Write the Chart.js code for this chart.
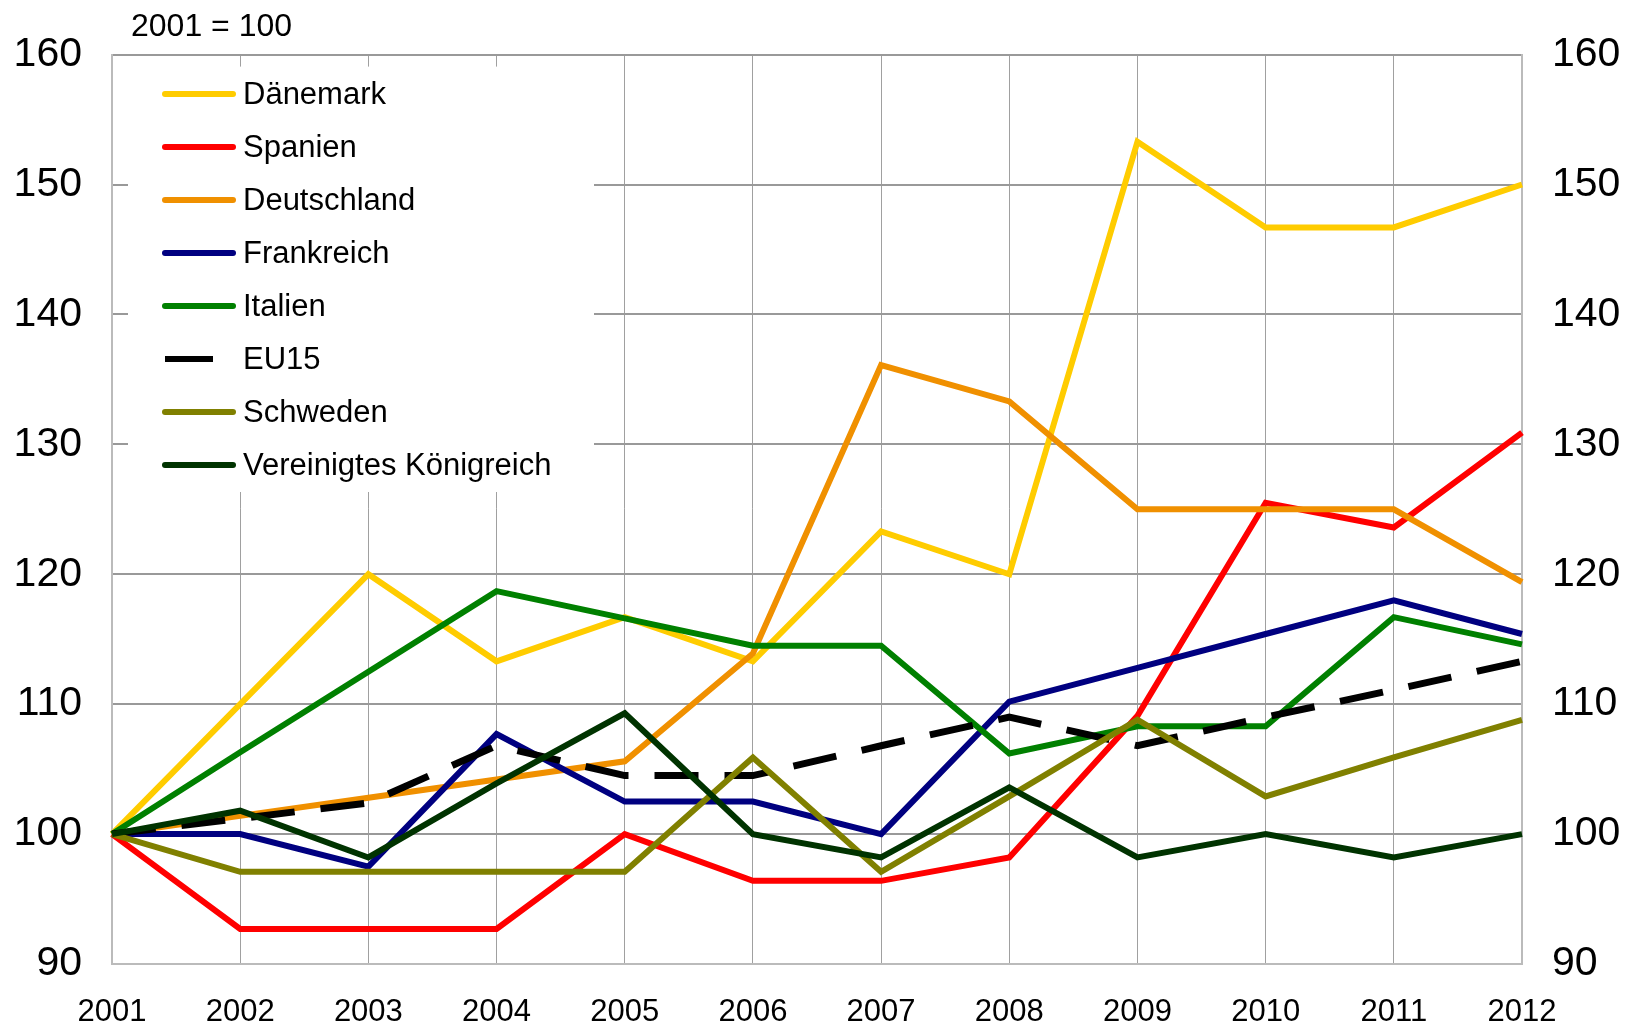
<!DOCTYPE html>
<html>
<head>
<meta charset="utf-8">
<script src="https://cdn.jsdelivr.net/npm/chart.js@4.4.0/dist/chart.umd.min.js"></script>
<style>
  body { margin: 0; background: #fff; }
  #wrap { position: relative; width: 1625px; height: 1024px; }
  #note { position: absolute; left: 131px; top: 7px; font: 32px "Liberation Sans", Arial, sans-serif; color: #000; }
</style>
</head>
<body>
<div id="wrap">
  <canvas id="chart" width="1625" height="1024"></canvas>
  <div id="note">2001 = 100</div>
</div>
<script>
// Jahre und Indexwerte (2001 = 100)
const years = ["2001", "2002", "2003", "2004", "2005", "2006", "2007", "2008", "2009", "2010", "2011", "2012"];
const daenemark = [100, 110, 120, 113.3, 116.7, 113.3, 123.3, 120, 153.3, 146.7, 146.7, 150];
const spanien = [100, 92.7, 92.7, 92.7, 100, 96.4, 96.4, 98.2, 109.1, 125.5, 123.6, 130.9];
const deutschland = [100, 101.4, 102.8, 104.2, 105.6, 113.9, 136.1, 133.3, 125, 125, 125, 119.4];
const frankreich = [100, 100, 97.5, 107.7, 102.5, 102.5, 100, 110.2, 112.8, 115.4, 118, 115.4];
const italien = [100, 106.3, 112.5, 118.7, 116.6, 114.5, 114.5, 106.2, 108.3, 108.3, 116.7, 114.6];
const eu15 = [100, 101.2, 102.4, 106.8, 104.5, 104.5, 106.8, 109.0, 106.8, 109.0, 111.1, 113.3];
const schweden = [100, 97.1, 97.1, 97.1, 97.1, 105.9, 97.1, 102.9, 108.8, 102.9, 105.9, 108.8];
const vk = [100, 101.8, 98.2, 103.9, 109.3, 100, 98.2, 103.6, 98.2, 100, 98.2, 100];
const yTicks = [90, 100, 110, 120, 130, 140, 150, 160];

const FONT = "'Liberation Sans', Arial, sans-serif";

function serie(label, data, color, dash) {
    return {
        label: label,
        data: data,
        borderColor: color,
        backgroundColor: color,
        borderWidth: dash ? 7 : 6,
        borderDash: dash || [],
        borderJoinStyle: "miter",
        pointRadius: 0,
        tension: 0,
        fill: false,
        yAxisID: "y"
    };
}

const datasets = [
    serie("Dänemark", daenemark, "#FFCC00"),
    serie("Spanien", spanien, "#FF0000"),
    serie("Deutschland", deutschland, "#F09000"),
    serie("Frankreich", frankreich, "#000080"),
    serie("Italien", italien, "#008000"),
    serie("EU15", eu15, "#000000", [44, 26]),
    serie("Schweden", schweden, "#808000"),
    serie("Vereinigtes Königreich", vk, "#003300")
];
// wie in Excel: spätere Reihen liegen oben
datasets.forEach(function(ds, i) { ds.order = datasets.length - i; });

// Legende als weißer Kasten im Diagramm, über dem Gitter, unter den Linien
const boxLegend = {
    id: "boxLegend",
    beforeDatasetsDraw: function(chart) {
        const ctx = chart.ctx;
        const area = chart.chartArea;
        ctx.save();
        ctx.fillStyle = "#ffffff";
        ctx.fillRect(area.left + 16, area.top + 12, 594 - area.left - 16, 492 - area.top - 12);
        ctx.font = "31px " + FONT;
        ctx.textBaseline = "middle";
        datasets.forEach(function(ds, i) {
            const y = 94 + i * 53;
            ctx.strokeStyle = ds.borderColor;
            ctx.lineWidth = 6;
            ctx.beginPath();
            if (ds.borderDash.length) {
                ctx.lineCap = "butt";
                ctx.moveTo(165, y);
                ctx.lineTo(213, y);
            } else {
                ctx.lineCap = "round";
                ctx.moveTo(165, y);
                ctx.lineTo(233, y);
            }
            ctx.stroke();
            ctx.fillStyle = "#000";
            ctx.fillText(ds.label, 243, y + 1);
        });
        ctx.restore();
    }
};

const tickFont = { family: FONT, size: 41 };

new Chart(document.getElementById("chart"), {
    type: "line",
    data: { labels: years, datasets: datasets },
    options: {
        responsive: false,
        animation: false,
        devicePixelRatio: 1,
        layout: { padding: { top: 54, left: 0, right: 0, bottom: 0 } },
        plugins: { legend: { display: false }, tooltip: { enabled: false } },
        scales: {
            x: {
                offset: false,
                grid: { color: "#a0a0a0", lineWidth: 1, drawTicks: false },
                border: { color: "#bbbbbb", width: 2 },
                ticks: { color: "#000", font: { family: FONT, size: 31 }, padding: 30, maxRotation: 0, autoSkip: false },
                afterFit: function(s) { s.height = 60; }
            },
            y: {
                position: "left",
                min: 90, max: 160,
                afterBuildTicks: function(s) { s.ticks = yTicks.map(function(v) { return { value: v }; }); },
                grid: { color: "#999999", lineWidth: 2, drawTicks: false },
                border: { color: "#bbbbbb", width: 2 },
                ticks: { color: "#000", font: tickFont, padding: 30 },
                afterFit: function(s) { s.width = 112; }
            },
            y2: {
                position: "right",
                min: 90, max: 160,
                afterBuildTicks: function(s) { s.ticks = yTicks.map(function(v) { return { value: v }; }); },
                grid: { drawOnChartArea: false, drawTicks: false },
                border: { color: "#bbbbbb", width: 2 },
                ticks: { color: "#000", font: tickFont, padding: 30 },
                afterFit: function(s) { s.width = 103; }
            }
        }
    },
    plugins: [boxLegend]
});
</script>
</body>
</html>
